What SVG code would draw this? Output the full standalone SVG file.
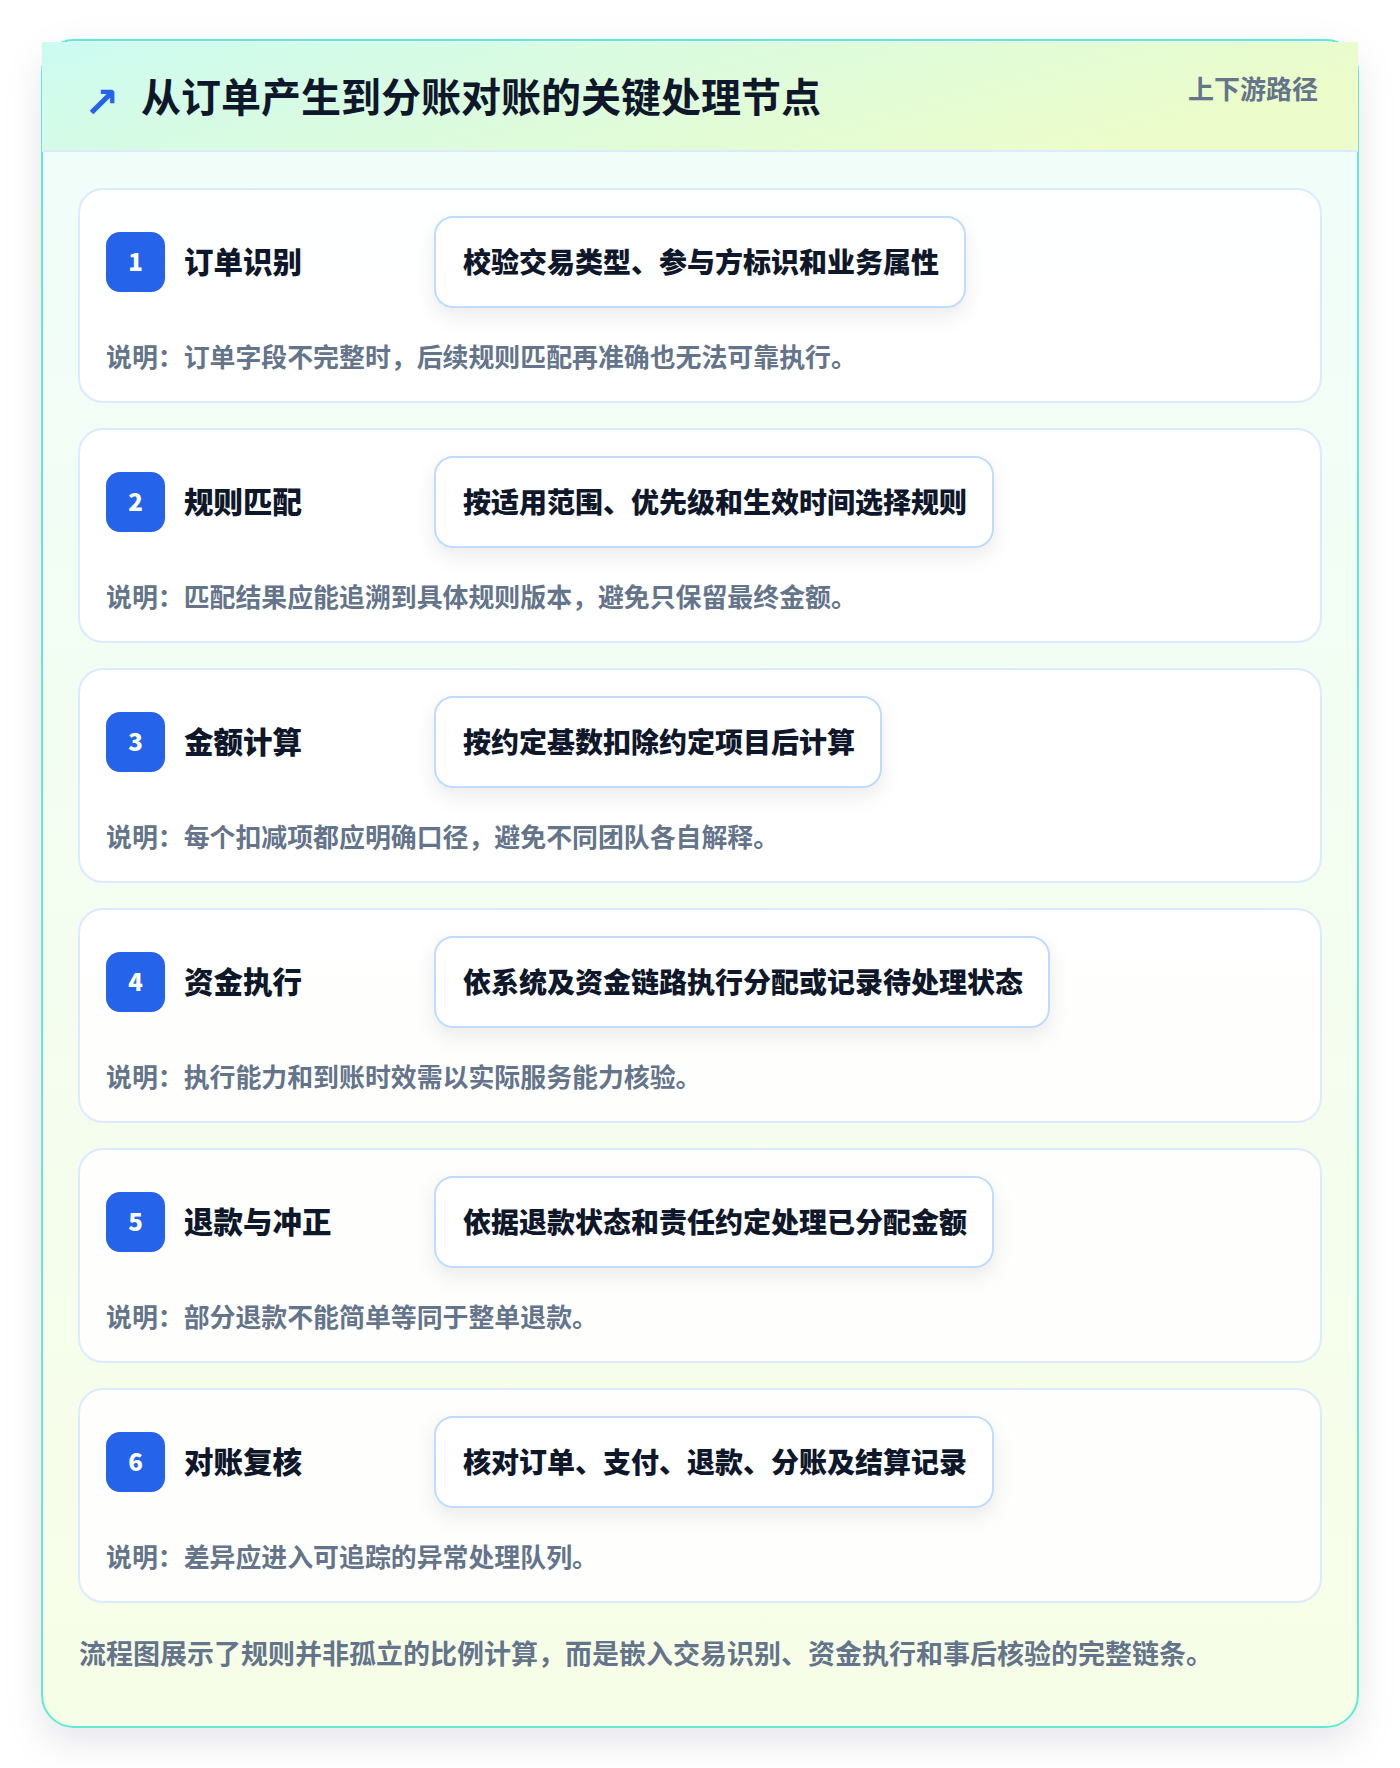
<svg xmlns="http://www.w3.org/2000/svg" width="1400" height="1768" viewBox="0 0 1400 1768">
<defs>
  <linearGradient id="hdr" x1="0" y1="0" x2="1" y2="0.3">
    <stop offset="0" stop-color="#ccfbf1"/>
    <stop offset="1" stop-color="#ecfccb"/>
  </linearGradient>
  <linearGradient id="body" x1="0" y1="0" x2="0" y2="1">
    <stop offset="0" stop-color="#f0fdfa"/>
    <stop offset="1" stop-color="#f7fee7"/>
  </linearGradient>
  <filter id="outerShadow" x="-10%" y="-10%" width="120%" height="120%">
    <feDropShadow dx="0" dy="14" stdDeviation="18" flood-color="#0f172a" flood-opacity="0.10"/>
  </filter>
  <filter id="boxShadow" x="-20%" y="-40%" width="140%" height="200%">
    <feDropShadow dx="0" dy="8" stdDeviation="10" flood-color="#0f172a" flood-opacity="0.08"/>
  </filter>
  <style>
    text { font-family: "Noto Sans CJK SC", "Noto Sans", sans-serif; font-weight: 700; }
    .card { fill: #ffffff; fill-opacity: 0.88; stroke: #dbeafe; stroke-width: 2; }
    .badge { fill: #2563eb; }
    .num { fill: #ffffff; font-size: 24px; text-anchor: middle; font-weight: 800; }
    .ttl { fill: #0f172a; font-size: 29.5px; font-weight: 800; }
    .box { fill: #ffffff; stroke: #bfdbfe; stroke-width: 2; filter: url(#boxShadow); }
    .btx { fill: #0f172a; font-size: 28px; font-weight: 800; }
    .desc { fill: #64748b; font-size: 25.9px; }
  </style>
</defs>
<rect width="1400" height="1768" fill="#ffffff"/>
<g id="frame">
  <rect x="42" y="40" width="1316" height="1687" rx="32" fill="url(#body)" stroke="#5eead4" stroke-width="2" filter="url(#outerShadow)"/>
  <rect x="42" y="42" width="1316" height="108" fill="url(#hdr)"/>
  <rect x="42" y="150" width="1316" height="2" fill="#dbeafe"/>
  <text x="84" y="117" font-size="42" fill="#2563eb" style="font-family:'DejaVu Sans',sans-serif;font-weight:700">↗</text>
  <text x="141" y="111.5" font-size="40" fill="#0f172a" font-weight="800">从订单产生到分账对账的关键处理节点</text>
  <text x="1318" y="98.5" font-size="26" fill="#64748b" text-anchor="end">上下游路径</text>
</g>
<g id="connectors"></g>
<g id="node1">
  <rect class="card" x="79" y="189" width="1242" height="213" rx="24"/>
  <rect class="badge" x="106" y="232" width="59" height="60" rx="14"/>
  <text class="num" x="135.5" y="271">1</text>
  <text class="ttl" x="184" y="273">订单识别</text>
  <rect class="box" x="435" y="217" width="530" height="90" rx="18"/>
  <text class="btx" x="463" y="272.5">校验交易类型、参与方标识和业务属性</text>
  <text class="desc" x="106" y="366.5">说明：订单字段不完整时，后续规则匹配再准确也无法可靠执行。</text>
</g>
<g id="node2">
  <rect class="card" x="79" y="429" width="1242" height="213" rx="24"/>
  <rect class="badge" x="106" y="472" width="59" height="60" rx="14"/>
  <text class="num" x="135.5" y="511">2</text>
  <text class="ttl" x="184" y="513">规则匹配</text>
  <rect class="box" x="435" y="457" width="558" height="90" rx="18"/>
  <text class="btx" x="463" y="512.5">按适用范围、优先级和生效时间选择规则</text>
  <text class="desc" x="106" y="606.5">说明：匹配结果应能追溯到具体规则版本，避免只保留最终金额。</text>
</g>
<g id="node3">
  <rect class="card" x="79" y="669" width="1242" height="213" rx="24"/>
  <rect class="badge" x="106" y="712" width="59" height="60" rx="14"/>
  <text class="num" x="135.5" y="751">3</text>
  <text class="ttl" x="184" y="753">金额计算</text>
  <rect class="box" x="435" y="697" width="446" height="90" rx="18"/>
  <text class="btx" x="463" y="752.5">按约定基数扣除约定项目后计算</text>
  <text class="desc" x="106" y="846.5">说明：每个扣减项都应明确口径，避免不同团队各自解释。</text>
</g>
<g id="node4">
  <rect class="card" x="79" y="909" width="1242" height="213" rx="24"/>
  <rect class="badge" x="106" y="952" width="59" height="60" rx="14"/>
  <text class="num" x="135.5" y="991">4</text>
  <text class="ttl" x="184" y="993">资金执行</text>
  <rect class="box" x="435" y="937" width="614" height="90" rx="18"/>
  <text class="btx" x="463" y="992.5">依系统及资金链路执行分配或记录待处理状态</text>
  <text class="desc" x="106" y="1086.5">说明：执行能力和到账时效需以实际服务能力核验。</text>
</g>
<g id="node5">
  <rect class="card" x="79" y="1149" width="1242" height="213" rx="24"/>
  <rect class="badge" x="106" y="1192" width="59" height="60" rx="14"/>
  <text class="num" x="135.5" y="1231">5</text>
  <text class="ttl" x="184" y="1233">退款与冲正</text>
  <rect class="box" x="435" y="1177" width="558" height="90" rx="18"/>
  <text class="btx" x="463" y="1232.5">依据退款状态和责任约定处理已分配金额</text>
  <text class="desc" x="106" y="1326.5">说明：部分退款不能简单等同于整单退款。</text>
</g>
<g id="node6">
  <rect class="card" x="79" y="1389" width="1242" height="213" rx="24"/>
  <rect class="badge" x="106" y="1432" width="59" height="60" rx="14"/>
  <text class="num" x="135.5" y="1471">6</text>
  <text class="ttl" x="184" y="1473">对账复核</text>
  <rect class="box" x="435" y="1417" width="558" height="90" rx="18"/>
  <text class="btx" x="463" y="1472.5">核对订单、支付、退款、分账及结算记录</text>
  <text class="desc" x="106" y="1566.5">说明：差异应进入可追踪的异常处理队列。</text>
</g>
<g id="footer">
  <text x="79" y="1664" font-size="27" fill="#64748b">流程图展示了规则并非孤立的比例计算，而是嵌入交易识别、资金执行和事后核验的完整链条。</text>
</g>
</svg>
